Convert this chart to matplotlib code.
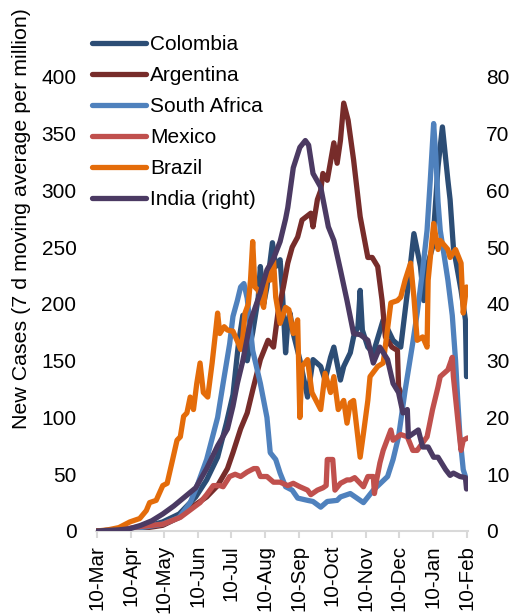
import matplotlib
matplotlib.use("Agg")
import matplotlib.pyplot as plt
import pandas as pd

plt.rcParams['font.family'] = ['Liberation Sans', 'DejaVu Sans']

start = pd.Timestamp('2020-03-10')

# (days since 10-Mar-2020, new cases per million, 7 d moving average)
colombia_days = [0, 10, 20, 30, 45, 60, 75, 90, 100, 110, 118, 124, 129, 133, 137, 142, 147, 149, 152, 155,
                 160, 163, 167, 169, 172, 174, 176, 179, 185, 192, 197, 204, 208, 213, 216, 222, 225, 231, 234,
                 238, 240, 242, 247, 252, 261, 270, 277, 283, 289, 295, 298, 301, 306, 311, 315, 320, 322, 325,
                 332, 336, 337]
colombia_vals = [0, 0.5, 1, 2, 4, 8, 15, 30, 45, 65, 95, 120, 165, 190, 150, 175, 205, 233, 200, 215,
                 254, 233, 239, 212, 157, 183, 192, 174, 151, 118, 151, 145, 133, 153, 162, 133, 145, 157, 171,
                 180, 212, 177, 162, 157, 186, 168, 162, 210, 262, 233, 203, 233, 250, 321, 356, 309, 292, 250,
                 212, 186, 136]

argentina_days = [0, 20, 40, 60, 75, 85, 100, 110, 119, 124, 131, 137, 142, 149, 156, 161, 165, 170, 174, 178,
                  183, 187, 195, 197, 201, 204, 206, 210, 216, 219, 222, 225, 229, 234, 240, 247, 251, 256, 260,
                  263, 269, 274, 275, 277, 278]
argentina_vals = [0, 0.5, 2, 5, 12, 20, 30, 40, 55, 69, 90, 104, 124, 151, 168, 162, 192, 215, 236, 250,
                  259, 274, 280, 268, 292, 300, 315, 309, 342, 324, 344, 377, 362, 327, 277, 241, 241, 233, 203,
                  171, 162, 159, 127, 122, 110]

south_africa_days = [0, 20, 40, 60, 75, 85, 91, 100, 110, 115, 121, 124, 128, 131, 134, 137, 142, 149, 155, 158,
                     163, 167, 172, 178, 183, 192, 197, 204, 210, 219, 222, 231, 243, 252, 265, 270, 275, 281,
                     288, 292, 297, 301, 304, 307, 309, 311, 313, 317, 320, 324, 327, 329, 331, 334, 337]
south_africa_vals = [0, 1, 3, 6, 12, 25, 39, 63, 100, 130, 165, 189, 203, 215, 218, 205, 159, 130, 100, 69,
                     63, 51, 39, 36, 29, 27, 26, 21, 26, 27, 30, 33, 25, 36, 48, 63, 83, 124,
                     166, 192, 230, 265, 310, 359, 330, 290, 265, 240, 221, 190, 150, 115, 83, 54, 45]

mexico_days = [0, 20, 40, 60, 76, 94, 100, 106, 112, 115, 121, 126, 131, 137, 143, 146, 149, 155, 161, 167,
               174, 179, 185, 192, 195, 201, 206, 209, 210, 215, 216, 217, 222, 228, 231, 235, 240, 243, 247,
               252, 253, 255, 258, 261, 268, 270, 277, 283, 288, 292, 301, 306, 311, 313, 320, 324, 325, 330,
               332, 334, 338]
mexico_vals = [0, 1, 4, 6, 12, 25, 32, 40, 40, 39, 48, 50, 48, 52, 55, 55, 48, 48, 43, 43,
               40, 42, 39, 36, 32, 36, 38, 40, 63, 63, 50, 36, 42, 45, 45, 47, 42, 39, 48,
               48, 33, 45, 60, 71, 89, 80, 85, 83, 71, 71, 83, 107, 127, 136, 142, 153, 136, 89,
               71, 80, 82]

brazil_days = [0, 10, 20, 30, 39, 45, 48, 54, 60, 64, 69, 73, 76, 79, 82, 85, 88, 91, 94, 97,
               101, 105, 108, 110, 112, 116, 119, 124, 129, 131, 133, 135, 138, 140, 142, 144, 147, 152, 155,
               158, 161, 163, 167, 172, 175, 179, 183, 185, 187, 192, 196, 204, 208, 213, 216, 220, 225, 228,
               231, 234, 240, 243, 247, 249, 256, 261, 268, 274, 277, 281, 286, 289, 292, 297, 301, 302, 307,
               311, 313, 320, 322, 327, 332, 334, 337]
brazil_vals = [0, 1, 3, 8, 11, 18, 25, 27, 40, 42, 63, 80, 83, 101, 104, 118, 107, 130, 148, 122,
               118, 148, 174, 192, 174, 180, 177, 176, 165, 160, 171, 192, 200, 221, 255, 215, 212, 197, 227,
               221, 239, 206, 183, 197, 195, 174, 186, 100, 145, 151, 122, 107, 139, 122, 136, 107, 115, 95,
               113, 115, 65, 86, 115, 136, 145, 148, 201, 203, 206, 221, 236, 206, 168, 171, 162, 221, 271,
               248, 256, 248, 241, 248, 236, 192, 215]

# India is on the right axis
india_days = [0, 20, 30, 40, 50, 60, 70, 80, 90, 100, 110, 119, 124, 128, 133, 140, 149, 155, 161, 167,
              172, 174, 179, 185, 190, 193, 197, 204, 211, 216, 222, 228, 234, 240, 247, 252, 258, 265, 270,
              275, 279, 283, 284, 293, 297, 302, 307, 311, 318, 322, 325, 331, 336, 337]
india_vals = [0, 0.2, 0.4, 1.0, 1.8, 3.0, 4.4, 6.0, 7.6, 11, 15, 18, 22, 26, 30, 37, 42, 46, 48, 51,
              55, 57, 64, 67.6, 68.8, 68, 63, 60.6, 53.6, 51.2, 46, 40.6, 34.8, 34.6, 33.6, 29.6, 32.4, 30.2, 26,
              24.4, 20.8, 21.4, 16.6, 17.8, 14.8, 14.8, 13, 13, 10.8, 9.8, 10.2, 9.6, 9.4, 7.4]

left_series = [
    ('Colombia', colombia_days, colombia_vals, '#2C4D75'),
    ('Argentina', argentina_days, argentina_vals, '#772C2A'),
    ('South Africa', south_africa_days, south_africa_vals, '#4F81BD'),
    ('Mexico', mexico_days, mexico_vals, '#C0504D'),
    ('Brazil', brazil_days, brazil_vals, '#E46C0A'),
]

LW = 3.8

fig = plt.figure(figsize=(5.10, 6.15), dpi=100)
ax = fig.add_axes([0.188, 0.1366, 0.730, 0.7382])
ax2 = ax.twinx()

handles = []
for name, d, v, c in left_series:
    x = start + pd.to_timedelta(d, unit='D')
    h, = ax.plot(x, v, color=c, lw=LW, solid_joinstyle='round', solid_capstyle='round', label=name)
    handles.append(h)

xi = start + pd.to_timedelta(india_days, unit='D')
h, = ax2.plot(xi, india_vals, color='#4B3A63', lw=LW, solid_joinstyle='round', solid_capstyle='round',
              label='India (right)')
handles.append(h)

ax.set_ylim(0, 400)
ax2.set_ylim(0, 80)
ax.set_yticks(range(0, 401, 50))
ax2.set_yticks(range(0, 81, 10))

ticks = [start + pd.DateOffset(months=i) for i in range(12)]
ax.set_xlim(start - pd.Timedelta(days=1), ticks[-1] + pd.Timedelta(days=1.5))
ax.set_xticks(ticks)
ax.set_xticklabels([t.strftime('%d-%b') for t in ticks], rotation=90)

for a in (ax, ax2):
    for s in a.spines.values():
        s.set_visible(False)
ax.spines['bottom'].set_visible(True)
ax.spines['bottom'].set_color('#D9D9D9')
ax.spines['bottom'].set_linewidth(1.5)

ax.tick_params(axis='x', length=5, width=1.5, color='#D9D9D9', labelsize=14.8, pad=5)
ax.tick_params(axis='y', length=0, labelsize=15, pad=14)
ax2.tick_params(axis='y', length=0, labelsize=15, pad=13)

fig.text(0.043, 1 - 219 / 615, 'New Cases (7 d moving average per million)', rotation=90,
         ha='center', va='center', fontsize=15.4)

fig.legend(handles=handles, loc='upper left', bbox_to_anchor=(0.180, 0.943), frameon=False,
           fontsize=15, handlelength=2.6, handletextpad=0.2, labelspacing=0.58,
           borderpad=0, borderaxespad=0)

fig.savefig('out.png', dpi=100)
